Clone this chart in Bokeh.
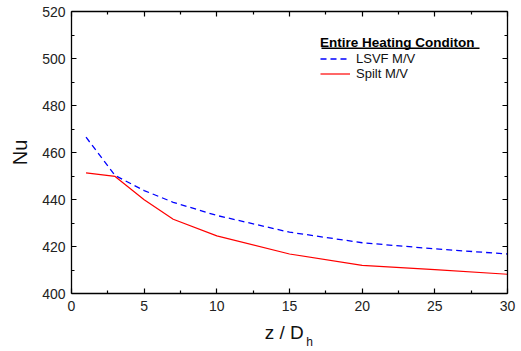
from bokeh.plotting import figure
from bokeh.models import (Legend, LegendItem, LinearAxis, BoxAnnotation,
                          FixedTicker, Range1d, CustomJSTickFormatter)
from bokeh.embed import file_html
from bokeh.resources import INLINE

# ---- data ----
z_lsvf = [1, 3, 5, 7, 10, 15, 20, 25, 30]
nu_lsvf = [466.5, 450.2, 443.8, 438.8, 433.2, 426.1, 421.6, 419.0, 416.8]
z_split = [1, 3, 5, 7, 10, 15, 20, 25, 30]
nu_split = [451.3, 449.8, 439.9, 431.6, 424.5, 416.8, 412.0, 410.2, 408.2]
x_ticks = [0, 5, 10, 15, 20, 25, 30]
y_ticks = [400, 420, 440, 460, 480, 500, 520]
legend_title = "Entire Heating Conditon"
name_lsvf = "LSVF M/V"
name_split = "Spilt M/V"
x_label_main = "z / D"
x_label_sub = "h"

FONT = "Liberation Sans"
NBSP = "\u00a0"

p = figure(width=521, height=351, output_backend="svg", toolbar_location=None,
           x_range=Range1d(0, 30), y_range=Range1d(400, 520),
           min_border_left=71, min_border_right=14, min_border_top=11,
           min_border_bottom=58, x_axis_label=x_label_main + NBSP * 2,
           y_axis_label="Nu")
p.grid.visible = False
p.outline_line_color = None
p.background_fill_color = "white"
p.border_fill_color = "white"

r1 = p.line(z_lsvf, nu_lsvf, line_color="#0000ff", line_width=1.3, line_dash="6 4")
r2 = p.line(z_split, nu_split, line_color="#ff0000", line_width=1.2)


def style_axis(ax, ticks, labels=True):
    ax.ticker = FixedTicker(ticks=ticks,
                            minor_ticks=[t + (ticks[1] - ticks[0]) / 2 for t in ticks[:-1]])
    ax.axis_line_color = "black"
    ax.axis_line_width = 1.3
    ax.major_tick_line_color = "black"
    ax.minor_tick_line_color = "black"
    ax.major_tick_line_width = 1.2
    ax.minor_tick_line_width = 1.2
    ax.major_tick_in = 5
    ax.major_tick_out = 0
    ax.minor_tick_in = 3
    ax.minor_tick_out = 0
    ax.major_label_text_font = FONT
    ax.major_label_text_font_size = "14px"
    ax.major_label_text_color = "#222222"
    ax.axis_label_text_font = FONT
    ax.axis_label_text_font_style = "normal"
    ax.axis_label_text_color = "#111111"
    if not labels:
        ax.formatter = CustomJSTickFormatter(code="return ''")
        ax.major_label_standoff = 0


style_axis(p.xaxis[0], x_ticks)
style_axis(p.yaxis[0], y_ticks)
p.xaxis[0].major_label_standoff = 7
p.xaxis[0].axis_label_text_font_size = "19px"
p.xaxis[0].axis_label_standoff = 8
p.yaxis[0].major_label_standoff = 6
p.yaxis[0].axis_label_text_font_size = "20px"
p.yaxis[0].axis_label_standoff = 8

top = LinearAxis()
right = LinearAxis()
style_axis(top, x_ticks, labels=False)
style_axis(right, y_ticks, labels=False)
p.add_layout(top, "above")
p.add_layout(right, "right")

# subscript "h" of the x-axis label, as the label of a bare extra axis below
sub = LinearAxis(ticker=FixedTicker(ticks=[]), axis_line_color=None,
                 major_tick_line_color=None, minor_tick_line_color=None,
                 axis_label=NBSP * 12 + x_label_sub, axis_label_standoff=-11,
                 axis_label_text_font=FONT, axis_label_text_font_size="12px",
                 axis_label_text_font_style="normal", axis_label_text_color="#111111")
p.add_layout(sub, "below")

legend = Legend(items=[LegendItem(label=name_lsvf, renderers=[r1]),
                       LegendItem(label=name_split, renderers=[r2])],
                location=(249, 212), title=legend_title,
                title_text_font=FONT, title_text_font_size="13.5px",
                title_text_font_style="bold", title_text_color="black",
                title_standoff=1,
                label_text_font=FONT, label_text_font_size="13px",
                label_text_color="#111111",
                glyph_width=30, glyph_height=15, label_height=15,
                label_standoff=6, spacing=0, padding=0, margin=0,
                border_line_color=None, background_fill_alpha=0)
p.add_layout(legend)

p.add_layout(BoxAnnotation(left=321, right=479, top=48.5, bottom=47,
                           left_units="canvas", right_units="canvas",
                           top_units="canvas", bottom_units="canvas",
                           fill_color="black", fill_alpha=1, line_color=None))

open("out.html", "w").write(file_html(p, INLINE))
